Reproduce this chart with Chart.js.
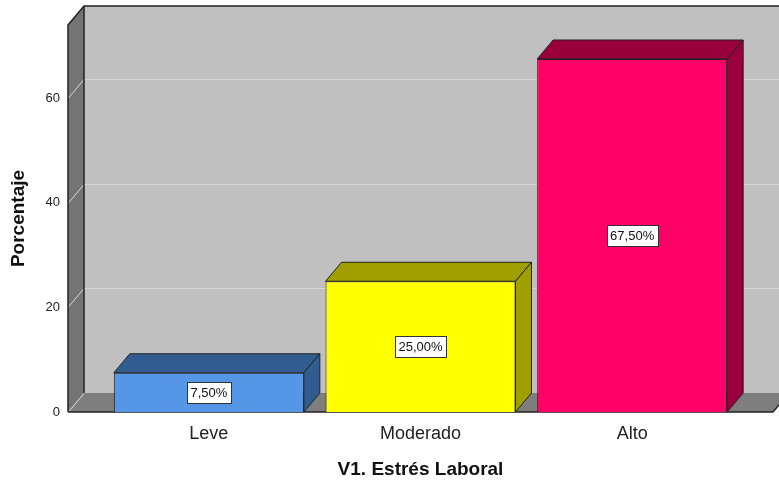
<!DOCTYPE html>
<html>
<head>
<meta charset="utf-8">
<script src="https://cdn.jsdelivr.net/npm/chart.js@4.4.1/dist/chart.umd.min.js"></script>
<style>
  html, body { margin: 0; padding: 0; background: #fff; }
</style>
</head>
<body>
<canvas id="chart" width="779" height="484"></canvas>
<script>
// data
const categories = ["Leve", "Moderado", "Alto"];
const percentages = [7.5, 25, 67.5];
const yTicks = [0, 20, 40, 60];
const yMax = 74;

// bar colours: front face, then top/side faces
const frontColors = ["#5596e6", "#ffff00", "#ff0066"];
const shadeColors = ["#315c8f", "#9f9f00", "#99003b"];

// depth of the fake 3D box
const DX = 16, DY = 19, WALL_GAP = 35;
const FONT = "'Liberation Sans', Arial, sans-serif";

function poly(ctx, pts, fill, stroke) {
  ctx.beginPath();
  ctx.moveTo(pts[0][0], pts[0][1]);
  for (let i = 1; i < pts.length; i++) ctx.lineTo(pts[i][0], pts[i][1]);
  ctx.closePath();
  if (fill) { ctx.fillStyle = fill; ctx.fill(); }
  if (stroke) { ctx.strokeStyle = stroke; ctx.lineWidth = 1; ctx.stroke(); }
}

function formatPct(v) {
  return v.toFixed(2).replace(".", ",") + "%";
}

// walls, floor and gridlines behind the bars
const box3d = {
  id: "box3d",
  beforeDatasetsDraw(chart) {
    const { ctx, chartArea: a } = chart;
    const y = chart.scales.y;
    const fl = a.left - WALL_GAP, fr = a.right + WALL_GAP;
    const top = a.top, bot = a.bottom;
    ctx.save();

    // back wall
    ctx.fillStyle = "#c0c0c0";
    ctx.fillRect(fl + DX, top - DY, fr - fl + 20, bot - top);

    // left side wall
    poly(ctx, [[fl, top], [fl + DX, top - DY], [fl + DX, bot - DY], [fl, bot]], "#747474");

    // floor
    poly(ctx, [[fl, bot], [fl + DX, bot - DY], [fr + DX, bot - DY], [fr, bot]], "#7e7e7e");

    // gridlines: diagonal on the side wall, horizontal on the back wall
    ctx.strokeStyle = "#d6d6d6";
    ctx.lineWidth = 1;
    yTicks.forEach(v => {
      const py = Math.round(y.getPixelForValue(v)) + 0.5;
      ctx.beginPath();
      ctx.moveTo(fl, py);
      ctx.lineTo(fl + DX, py - DY);
      if (v > 0) ctx.lineTo(fr + DX + 20, py - DY);
      ctx.stroke();
    });

    // edges
    ctx.strokeStyle = "#222";
    ctx.lineWidth = 1.5;
    ctx.beginPath();
    ctx.moveTo(fl, bot);
    ctx.lineTo(fl, top);
    ctx.lineTo(fl + DX, top - DY);
    ctx.lineTo(fr + DX + 20, top - DY);
    ctx.moveTo(fl + DX, top - DY);
    ctx.lineTo(fl + DX, bot - DY);
    ctx.moveTo(fl, bot);
    ctx.lineTo(fr, bot);
    ctx.lineTo(fr + DX, bot - DY);
    ctx.stroke();
    ctx.restore();
  },

  // top and side faces of each bar, then the value boxes
  afterDatasetsDraw(chart) {
    const { ctx } = chart;
    const meta = chart.getDatasetMeta(0);
    ctx.save();
    meta.data.forEach((bar, i) => {
      const { x, y, base, width } = bar.getProps(["x", "y", "base", "width"], true);
      const L = x - width / 2, R = x + width / 2;
      poly(ctx, [[L, y], [L + DX, y - DY], [R + DX, y - DY], [R, y]], shadeColors[i], "#222");
      poly(ctx, [[R, y], [R + DX, y - DY], [R + DX, base - DY], [R, base]], shadeColors[i], "#222");
    });

    ctx.font = "13px " + FONT;
    ctx.textAlign = "center";
    ctx.textBaseline = "middle";
    meta.data.forEach((bar, i) => {
      const { x, y, base } = bar.getProps(["x", "y", "base"], true);
      const txt = formatPct(percentages[i]);
      const cy = (y + base) / 2;
      const w = Math.round(ctx.measureText(txt).width) + 7, h = 21;
      const bx = Math.round(x - w / 2) + 0.5, by = Math.round(cy - h / 2) + 0.5;
      ctx.fillStyle = "#fff";
      ctx.fillRect(bx, by, w, h);
      ctx.strokeStyle = "#333";
      ctx.lineWidth = 1;
      ctx.strokeRect(bx, by, w, h);
      ctx.fillStyle = "#111";
      ctx.fillText(txt, x, cy + 1);
    });
    ctx.restore();
  }
};

const ctx = document.getElementById("chart").getContext("2d");
new Chart(ctx, {
  type: "bar",
  data: {
    labels: categories,
    datasets: [{
      data: percentages,
      backgroundColor: frontColors,
      borderColor: "#222",
      borderWidth: 1,
      barPercentage: 0.8976,
      categoryPercentage: 1
    }]
  },
  options: {
    responsive: false,
    animation: false,
    devicePixelRatio: 1,
    layout: { autoPadding: false, padding: { top: 25, right: 41, bottom: 0, left: 0 } },
    plugins: { legend: { display: false }, tooltip: { enabled: false } },
    scales: {
      x: {
        afterFit(s) { s.height = 72; },
        grid: { display: false, drawTicks: false },
        border: { display: false },
        ticks: { padding: 11, color: "#222", font: { family: FONT, size: 18 } },
        title: {
          display: true,
          text: "V1. Estrés Laboral",
          color: "#111",
          font: { family: FONT, size: 19, weight: "bold" },
          padding: { top: 0, bottom: 3 }
        }
      },
      y: {
        min: 0,
        max: yMax,
        afterFit(s) { s.width = 103; s.paddingTop = 0; s.paddingBottom = 0; },
        afterBuildTicks(s) { s.ticks = yTicks.map(v => ({ value: v })); },
        grid: { display: false, drawTicks: false },
        border: { display: false },
        ticks: { padding: 43, color: "#222", font: { family: FONT, size: 13 } },
        title: {
          display: true,
          text: "Porcentaje",
          color: "#111",
          font: { family: FONT, size: 19, weight: "bold" },
          padding: { top: 7, bottom: 0 }
        }
      }
    }
  },
  plugins: [box3d]
});
</script>
</body>
</html>
